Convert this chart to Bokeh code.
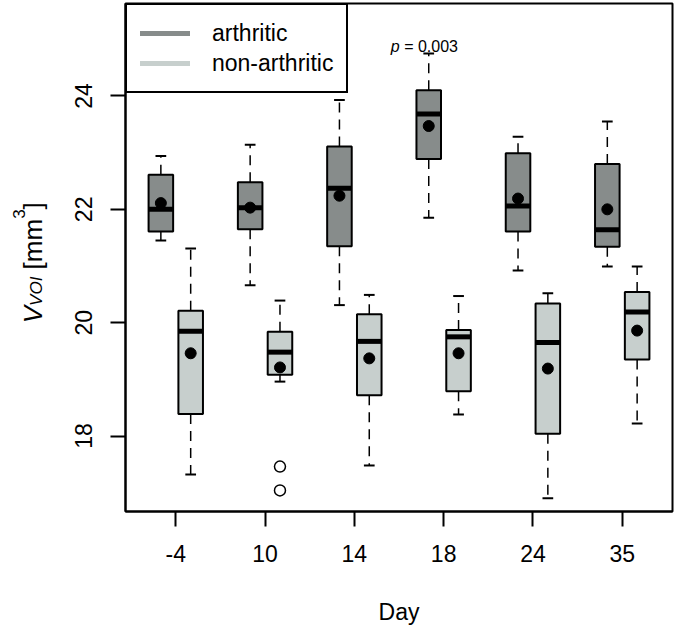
import numpy as np
from bokeh.plotting import figure
from bokeh.layouts import row
from bokeh.models import Range1d, FixedTicker, Legend, LegendItem, Label
from bokeh.embed import file_html
from bokeh.resources import INLINE
from bokeh.core.properties import value

# ---- data ----
days = ["-4", "10", "14", "18", "24", "35"]

arth_whislo = [21.45, 20.66, 20.31, 21.85, 20.92, 20.99]
arth_q1     = [21.61, 21.65, 21.35, 22.89, 21.61, 21.34]
arth_med    = [22.00, 22.03, 22.37, 23.68, 22.06, 21.64]
arth_q3     = [22.61, 22.48, 23.11, 24.10, 22.99, 22.80]
arth_whishi = [22.94, 23.14, 23.93, 24.75, 23.28, 23.55]
arth_mean   = [22.11, 22.03, 22.24, 23.47, 22.19, 22.00]

non_whislo = [17.32, 18.96, 17.48, 18.38, 16.90, 18.22]
non_q1     = [18.39, 19.08, 18.72, 18.79, 18.04, 19.35]
non_med    = [19.85, 19.48, 19.67, 19.75, 19.65, 20.19]
non_q3     = [20.21, 19.84, 20.15, 19.87, 20.34, 20.54]
non_whishi = [21.31, 20.39, 20.49, 20.47, 20.52, 20.99]
non_mean   = [19.46, 19.21, 19.37, 19.46, 19.19, 19.86]

non_out_day = ["10", "10"]
non_out_val = [17.46, 17.04]

y_ticks = [18, 20, 22, 24]
p_label_day = "18"
p_label_text = "= 0.003"

# ---- styling / layout ----
ARTH = "#878c8b"
NON = "#c7cfcd"
FONT = "Liberation Sans"
X0, X1 = 0.437, 6.563
Y0, Y1 = 16.668, 25.632
LW = 50                  # width of the strip holding the y title
FW, FH = 547, 508
OFF = 0.167      # group offset from tick
BW = 0.275       # box width
CW = 0.12        # cap width

px_x = FW / (X1 - X0)
px_y = FH / (Y1 - Y0)

pos = {d: i + 1 for i, d in enumerate(days)}
xa = [pos[d] - OFF for d in days]
xn = [pos[d] + OFF for d in days]

p = figure(width=675 - LW, height=628, output_backend="svg",
           toolbar_location=None,
           x_range=Range1d(X0, X1), y_range=Range1d(Y0, Y1),
           min_border_left=125 - LW, min_border_right=3, min_border_top=3,
           min_border_bottom=117)
p.background_fill_color = "white"
p.border_fill_color = "white"
p.outline_line_color = "black"
p.outline_line_width = 2
p.xgrid.visible = False
p.ygrid.visible = False


def draw_group(xs, lo, q1, med, q3, hi, mn, color):
    xs = np.array(xs)
    p.segment(x0=xs, y0=q3, x1=xs, y1=hi, line_color="black",
              line_width=1.5, line_dash="10 7")
    p.segment(x0=xs, y0=q1, x1=xs, y1=lo, line_color="black",
              line_width=1.5, line_dash="10 7")
    p.segment(x0=xs - CW / 2, y0=hi, x1=xs + CW / 2, y1=hi,
              line_color="black", line_width=2)
    p.segment(x0=xs - CW / 2, y0=lo, x1=xs + CW / 2, y1=lo,
              line_color="black", line_width=2)
    p.vbar(x=xs, width=BW, top=q3, bottom=q1, fill_color=color,
           line_color="black", line_width=2)
    p.segment(x0=xs - BW / 2, y0=med, x1=xs + BW / 2, y1=med,
              line_color="black", line_width=5, line_cap="butt")
    p.scatter(x=xs, y=mn, size=11, marker="circle", fill_color="black",
              line_color="black")


draw_group(xa, arth_whislo, arth_q1, arth_med, arth_q3, arth_whishi,
           arth_mean, ARTH)
draw_group(xn, non_whislo, non_q1, non_med, non_q3, non_whishi,
           non_mean, NON)

p.scatter(x=[pos[d] + OFF for d in non_out_day], y=non_out_val, size=11,
          marker="circle", fill_color="white", line_color="black",
          line_width=1.5)

# legend (line renderers placed outside the visible range)
r1 = p.line(x=[-10, -9], y=[0, 0], line_color=ARTH, line_width=5,
            line_cap="round")
r2 = p.line(x=[-10, -9], y=[0, 0], line_color=NON, line_width=5,
            line_cap="round")
legend = Legend(items=[LegendItem(label="arthritic", renderers=[r1]),
                       LegendItem(label="non-arthritic", renderers=[r2])],
                location="top_left", margin=0, padding=13, spacing=0,
                label_height=30, glyph_height=30, glyph_width=50,
                label_standoff=22, border_line_color="black",
                border_line_width=2, border_line_alpha=1.0,
                background_fill_color="white",
                background_fill_alpha=1.0, label_text_font=FONT,
                label_text_font_size="23px", label_text_color="black")
p.add_layout(legend)

# axes
p.xaxis.ticker = FixedTicker(ticks=list(range(1, len(days) + 1)))
p.xaxis.major_label_overrides = {i + 1: d for i, d in enumerate(days)}
p.yaxis.ticker = FixedTicker(ticks=y_ticks)
p.yaxis.major_label_orientation = "vertical"
for ax in (p.xaxis[0], p.yaxis[0]):
    ax.axis_line_color = "black"
    ax.axis_line_width = 2
    ax.major_tick_line_color = "black"
    ax.major_tick_line_width = 2
    ax.major_tick_in = 0
    ax.major_tick_out = 15
    ax.minor_tick_line_color = None
    ax.major_label_text_font = FONT
    ax.major_label_text_font_size = "23px"
    ax.major_label_text_color = "black"
p.xaxis.major_label_standoff = 18
p.yaxis.major_label_standoff = 18
p.xaxis.axis_label = "Day"
p.xaxis.axis_label_text_font = FONT
p.xaxis.axis_label_text_font_size = "23px"
p.xaxis.axis_label_text_font_style = "normal"
p.xaxis.axis_label_text_color = "black"
p.xaxis.axis_label_standoff = 34

# p-value annotation
xp = pos[p_label_day] - OFF - 29 / px_x
yp = 24.88
p.add_layout(Label(x=xp, y=yp, text="p", text_font=FONT,
                   text_font_size="16px", text_font_style="italic",
                   text_align="right", text_baseline="alphabetic",
                   text_color="black"))
p.add_layout(Label(x=xp + 4.4 / px_x, y=yp, text=p_label_text,
                   text_font=FONT, text_font_size="16px", text_align="left",
                   text_baseline="alphabetic", text_color="black"))

# ---- y-axis title strip: V_VOI [mm^3] (frame aligns with the main plot) ----
q = figure(width=LW, height=628, output_backend="svg", toolbar_location=None,
           x_range=Range1d(0, LW), y_range=Range1d(Y0, Y1),
           x_axis_location=None, y_axis_location=None, min_border=0)
q.outline_line_color = None
q.xgrid.visible = False
q.ygrid.visible = False
q.background_fill_color = "white"
q.border_fill_color = "white"

adv = {"V": 0.667, "O": 0.778, "I": 0.278, " ": 0.278, "[": 0.278,
       "m": 0.833, "3": 0.556, "]": 0.278}
base_x = 32
start = 19.99
MF, SF = 26, 17
parts = [("V", MF, "italic", 0, 0.0), ("VOI", SF, "italic", 4, 0.0),
         ("[mm", MF, "normal", 0, 0.278 * MF), ("3", SF, "normal", -14, 0.0),
         ("]", MF, "normal", 0, 0.0)]
cur = start
for txt, fs, style, dx, pre in parts:
    cur += pre / px_y
    q.text(x=[base_x + dx], y=[cur], text=[txt], angle=np.pi / 2,
           text_font=value(FONT), text_font_size=f"{fs}px",
           text_font_style=style, text_align="left",
           text_baseline="alphabetic", text_color="black")
    cur += sum(adv[c] for c in txt) * fs / px_y

layout = row(q, p, spacing=0)
open("out.html", "w").write(file_html(layout, INLINE))
